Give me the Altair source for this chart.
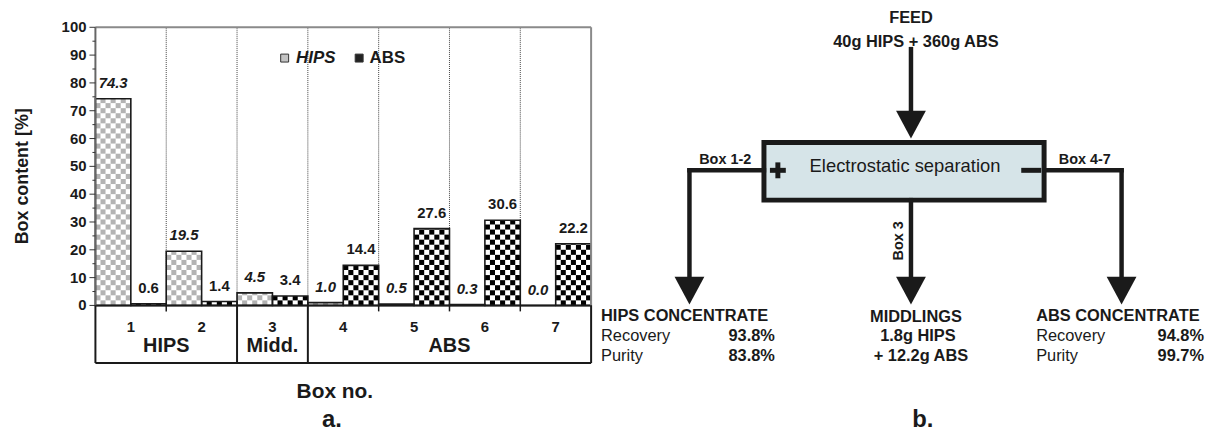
import altair as alt
import numpy as np
import pandas as pd

# ---------------- data ----------------
boxes = [1, 2, 3, 4, 5, 6, 7]
hips_content = [74.3, 19.5, 4.5, 1.0, 0.5, 0.3, 0.0]
abs_content = [0.6, 1.4, 3.4, 14.4, 27.6, 30.6, 22.2]
y_ticks = [0, 10, 20, 30, 40, 50, 60, 70, 80, 90, 100]
y_minor_ticks = [5, 15, 25, 35, 45, 55, 65, 75, 85, 95]
group_names = ["HIPS", "Midd.", "ABS"]
group_first = [1, 3, 4]
group_last = [2, 3, 7]
legend_names = ["HIPS", "ABS"]
y_title = "Box content [%]"
x_title = "Box no."
panel_labels = ["a.", "b."]

feed_title = "FEED"
feed_text = "40g HIPS + 360g ABS"
process_text = "Electrostatic separation"
stream_names = ["Box 1-2", "Box 3", "Box 4-7"]
hips_conc_title = "HIPS CONCENTRATE"
abs_conc_title = "ABS CONCENTRATE"
metric_names = ["Recovery", "Purity"]
hips_conc_values = ["93.8%", "83.8%"]
abs_conc_values = ["94.8%", "99.7%"]
middlings_lines = ["MIDDLINGS", "1.8g HIPS", "+ 12.2g ABS"]

# ---------------- layout ----------------
W, H = 1207, 424
PL, PR = 88, 587          # plot area left/right (px)
Y0 = 298                  # px of value 0
PXU = 2.8                 # px per percent
BW = (PR - PL) / len(boxes)
FONT = "Liberation Sans"
INK = "#1a1a1a"

pos_lo = 0.5 - PL / BW
pos_hi = 0.5 + (W - PL) / BW
v_lo = (Y0 - H) / PXU
v_hi = Y0 / PXU

XB = alt.Scale(domain=[pos_lo, pos_hi], nice=False, zero=False)
YB = alt.Scale(domain=[v_lo, v_hi], nice=False, zero=False)
XP = alt.Scale(domain=[0, W], nice=False, zero=False)
YP = alt.Scale(domain=[0, H], reverse=True, nice=False, zero=False)


def X(f, sc):
    return alt.X(f"{f}:Q", scale=sc, axis=None)


def Y(f, sc):
    return alt.Y(f"{f}:Q", scale=sc, axis=None)


layers = []

# ---- bar table ----
bars = []
for b, h, a in zip(boxes, hips_content, abs_content):
    bars.append(dict(box=b, series="HIPS", value=h, x0=b - 0.5, x1=b, xc=b - 0.25, zero=0.0))
    bars.append(dict(box=b, series="ABS", value=a, x0=b, x1=b + 0.5, xc=b + 0.25, zero=0.0))
bars_df = pd.DataFrame(bars)

# checkerboard cells derived from bars
ncol = 7
cw = 0.5 / ncol
ch = (BW / 2 / ncol) / PXU
cells = []
for r0 in bars:
    nrows = int(np.ceil(r0["value"] / ch - 1e-9))
    for r in range(nrows):
        for c in range(ncol):
            if (r + c) % 2 == 1:
                cells.append(dict(
                    cx0=r0["x0"] + c * cw, cx1=r0["x0"] + (c + 1) * cw,
                    cy0=r * ch, cy1=min((r + 1) * ch, r0["value"]),
                    fill="#b3b3b3" if r0["series"] == "HIPS" else "#000000"))
cells_df = pd.DataFrame(cells)

# dotted grid at box boundaries
grid_df = pd.DataFrame(dict(pos=[b + 0.5 for b in boxes[:-1]], v0=0, v1=max(y_ticks)))
layers.append(alt.Chart(grid_df).mark_rule(color="#444", strokeWidth=1, strokeDash=[1, 1]).encode(
    x=X("pos", XB), y=Y("v0", YB), y2="v1"))

# cells and bar outlines
layers.append(alt.Chart(cells_df).mark_rect(strokeWidth=0).encode(
    x=X("cx0", XB), x2="cx1", y=Y("cy0", YB), y2="cy1",
    fill=alt.Fill("fill:N", scale=None)))
layers.append(alt.Chart(bars_df).mark_rect(fillOpacity=0, stroke=INK, strokeWidth=1.6).encode(
    x=X("x0", XB), x2="x1", y=Y("zero", YB), y2="value"))

# frame
lo_pos, hi_pos = boxes[0] - 0.5, boxes[-1] + 0.5
frame_h = pd.DataFrame(dict(p0=[lo_pos, lo_pos], p1=[hi_pos, hi_pos], v=[100, 0],
                            col=["#8a8a8a", INK]))
layers.append(alt.Chart(frame_h).mark_rule(strokeWidth=2).encode(
    x=X("p0", XB), x2="p1", y=Y("v", YB), color=alt.Color("col:N", scale=None)))
frame_v = pd.DataFrame(dict(p=[lo_pos, hi_pos], v0=[0, 0], v1=[100, 100], col=["#666", "#8a8a8a"]))
layers.append(alt.Chart(frame_v).mark_rule(strokeWidth=2).encode(
    x=X("p", XB), y=Y("v0", YB), y2="v1", color=alt.Color("col:N", scale=None)))

# y ticks & labels
maj = pd.DataFrame(dict(v=y_ticks, xa=PL - 6, xb=PL, xl=PL - 9, lab=[str(t) for t in y_ticks]))
mnr = pd.DataFrame(dict(v=y_minor_ticks, xa=PL - 3, xb=PL))
layers.append(alt.Chart(maj).mark_rule(color="#333", strokeWidth=1).encode(
    x=X("xa", XP), x2="xb", y=Y("v", YB)))
layers.append(alt.Chart(mnr).mark_rule(color="#333", strokeWidth=1).encode(
    x=X("xa", XP), x2="xb", y=Y("v", YB)))
layers.append(alt.Chart(maj).mark_text(font=FONT, fontSize=15, fontWeight="bold", align="right",
                                       baseline="middle", color=INK).encode(
    x=X("xl", XP), y=Y("v", YB), text="lab:N"))

# value labels
hips_df = bars_df[bars_df.series == "HIPS"].assign(lab=lambda d: d.value.map(lambda v: f"{v:.1f}"))
abs_df = bars_df[bars_df.series == "ABS"].assign(lab=lambda d: d.value.map(lambda v: f"{v:.1f}"))
layers.append(alt.Chart(hips_df).mark_text(font=FONT, fontSize=15, fontWeight="bold", fontStyle="italic",
                                           align="center", baseline="alphabetic", dy=-11, color=INK).encode(
    x=X("xc", XB), y=Y("value", YB), text="lab:N"))
layers.append(alt.Chart(abs_df).mark_text(font=FONT, fontSize=15, fontWeight="bold",
                                          align="center", baseline="alphabetic", dy=-11, color=INK).encode(
    x=X("xc", XB), y=Y("value", YB), text="lab:N"))

# category table below the axis
TB = 356
sep = sorted(set([f - 0.5 for f in group_first] + [l + 0.5 for l in group_last]))
inner = [b + 0.5 for b in boxes[:-1] if (b + 0.5) not in sep]
sep_df = pd.DataFrame(dict(p=sep, y0=Y0, y1=TB))
inn_df = pd.DataFrame(dict(p=inner, y0=Y0, y1=Y0 + 6))
bot_df = pd.DataFrame(dict(p0=[lo_pos], p1=[hi_pos], y=[TB]))
layers.append(alt.Chart(sep_df).mark_rule(color=INK, strokeWidth=2).encode(
    x=X("p", XB), y=Y("y0", YP), y2="y1"))
layers.append(alt.Chart(inn_df).mark_rule(color=INK, strokeWidth=1.5).encode(
    x=X("p", XB), y=Y("y0", YP), y2="y1"))
layers.append(alt.Chart(bot_df).mark_rule(color=INK, strokeWidth=2).encode(
    x=X("p0", XB), x2="p1", y=Y("y", YP)))
num_df = pd.DataFrame(dict(p=boxes, y=320, lab=[str(b) for b in boxes]))
layers.append(alt.Chart(num_df).mark_text(font=FONT, fontSize=15, fontWeight="bold", baseline="middle",
                                          color=INK).encode(x=X("p", XB), y=Y("y", YP), text="lab:N"))
grp_df = pd.DataFrame(dict(p=[(f + l) / 2 for f, l in zip(group_first, group_last)], y=339, lab=group_names))
layers.append(alt.Chart(grp_df).mark_text(font=FONT, fontSize=20, fontWeight="bold", baseline="middle",
                                          color=INK).encode(x=X("p", XB), y=Y("y", YP), text="lab:N"))

# legend
leg_sq = pd.DataFrame(dict(x=[278.5, 353.5], y=[49, 49], fill=["#c4c4c4", "#222222"]))
layers.append(alt.Chart(leg_sq).mark_point(shape="square", size=64, filled=True, stroke="#333",
                                           strokeWidth=1, opacity=1).encode(
    x=X("x", XP), y=Y("y", YP), fill=alt.Fill("fill:N", scale=None)))
leg_tx = pd.DataFrame(dict(x=[290, 364], y=[49, 49], lab=legend_names, sty=["italic", "normal"]))
layers.append(alt.Chart(leg_tx[leg_tx.sty == "italic"]).mark_text(
    font=FONT, fontSize=17, fontWeight="bold", fontStyle="italic", align="left", baseline="middle",
    color=INK).encode(x=X("x", XP), y=Y("y", YP), text="lab:N"))
layers.append(alt.Chart(leg_tx[leg_tx.sty == "normal"]).mark_text(
    font=FONT, fontSize=17, fontWeight="bold", align="left", baseline="middle",
    color=INK).encode(x=X("x", XP), y=Y("y", YP), text="lab:N"))

# axis titles and panel labels
ttl = pd.DataFrame(dict(x=[15], y=[168], lab=[y_title]))
layers.append(alt.Chart(ttl).mark_text(font=FONT, fontSize=18, fontWeight="bold", angle=270,
                                       baseline="middle", align="center", color=INK).encode(
    x=X("x", XP), y=Y("y", YP), text="lab:N"))
xt = pd.DataFrame(dict(x=[329], y=[385], lab=[x_title]))
layers.append(alt.Chart(xt).mark_text(font=FONT, fontSize=21, fontWeight="bold", baseline="middle",
                                      color=INK).encode(x=X("x", XP), y=Y("y", YP), text="lab:N"))
pl = pd.DataFrame(dict(x=[326, 921], y=[420, 420], lab=panel_labels))
layers.append(alt.Chart(pl).mark_text(font=FONT, fontSize=24, fontWeight="bold", baseline="alphabetic",
                                      color=INK).encode(x=X("x", XP), y=Y("y", YP), text="lab:N"))

# ---------------- flow diagram (panel b) ----------------
box = pd.DataFrame(dict(x0=[761], x1=[1043], y0=[134], y1=[192]))
layers.append(alt.Chart(box).mark_rect(fill="#d6e4e8", stroke=INK, strokeWidth=5).encode(
    x=X("x0", XP), x2="x1", y=Y("y0", YP), y2="y1"))

segs = pd.DataFrame(dict(
    x0=[909, 761, 686, 1043, 1121, 909],
    x1=[909, 686, 686, 1121, 1121, 909],
    y0=[40, 162, 162, 162, 162, 192],
    y1=[104, 162, 271, 162, 271, 271]))
layers.append(alt.Chart(segs).mark_rule(color=INK, strokeWidth=4.5, strokeCap="square").encode(
    x=X("x0", XP), x2="x1", y=Y("y0", YP), y2="y1"))

# "+" and "-" electrode signs
signs = pd.DataFrame(dict(
    x0=[767, 775, 1020],
    x1=[783, 775, 1040],
    y0=[162, 154, 162],
    y1=[162, 170, 162]))
layers.append(alt.Chart(signs).mark_rule(color=INK, strokeWidth=5, strokeCap="butt").encode(
    x=X("x0", XP), x2="x1", y=Y("y0", YP), y2="y1"))

heads = pd.DataFrame(dict(x=[909, 686, 909, 1121], y=[116, 283, 283, 283]))
layers.append(alt.Chart(heads).mark_point(shape="M-1,-0.93L1,-0.93L0,0.93Z", size=900, filled=True,
                                          color=INK, opacity=1, strokeWidth=0).encode(
    x=X("x", XP), y=Y("y", YP)))


def text_layer(rows, **kw):
    df = pd.DataFrame(rows, columns=["lab", "x", "y"])
    style = dict(font=FONT, color=INK, baseline="middle")
    style.update(kw)
    return alt.Chart(df).mark_text(**style).encode(x=X("x", XP), y=Y("y", YP), text="lab:N")


layers.append(text_layer([(feed_title, 909, 9), (feed_text, 914, 33)],
                         fontSize=16.5, fontWeight="bold", align="center"))
layers.append(text_layer([(process_text, 903, 158)], fontSize=18.5, align="center"))
layers.append(text_layer([(stream_names[0], 722, 152), (stream_names[2], 1084, 152)],
                         fontSize=14.5, fontWeight="bold", align="center"))
layers.append(text_layer([(stream_names[1], 897, 233)], fontSize=14.5, fontWeight="bold",
                         align="center", angle=270))
layers.append(text_layer([(hips_conc_title, 597, 309), (abs_conc_title, 1035, 309)],
                         fontSize=16.5, fontWeight="bold", align="left"))
layers.append(text_layer([(metric_names[0], 597, 329), (metric_names[1], 597, 349),
                          (metric_names[0], 1035, 329), (metric_names[1], 1035, 349)],
                         fontSize=16.5, align="left"))
layers.append(text_layer([(hips_conc_values[0], 772, 329), (hips_conc_values[1], 772, 349),
                          (abs_conc_values[0], 1204, 329), (abs_conc_values[1], 1204, 349)],
                         fontSize=16.5, fontWeight="bold", align="right"))
layers.append(text_layer([(middlings_lines[0], 914, 310), (middlings_lines[1], 916, 329),
                          (middlings_lines[2], 919, 349)],
                         fontSize=16.5, fontWeight="bold", align="center"))

chart = alt.layer(*layers).resolve_scale(x="independent", y="independent").properties(
    width=W, height=H, padding=0, autosize=alt.AutoSizeParams(type="none")
).configure_view(stroke="transparent")

chart.save("out.html", embed_options={"renderer": "svg", "actions": False})
